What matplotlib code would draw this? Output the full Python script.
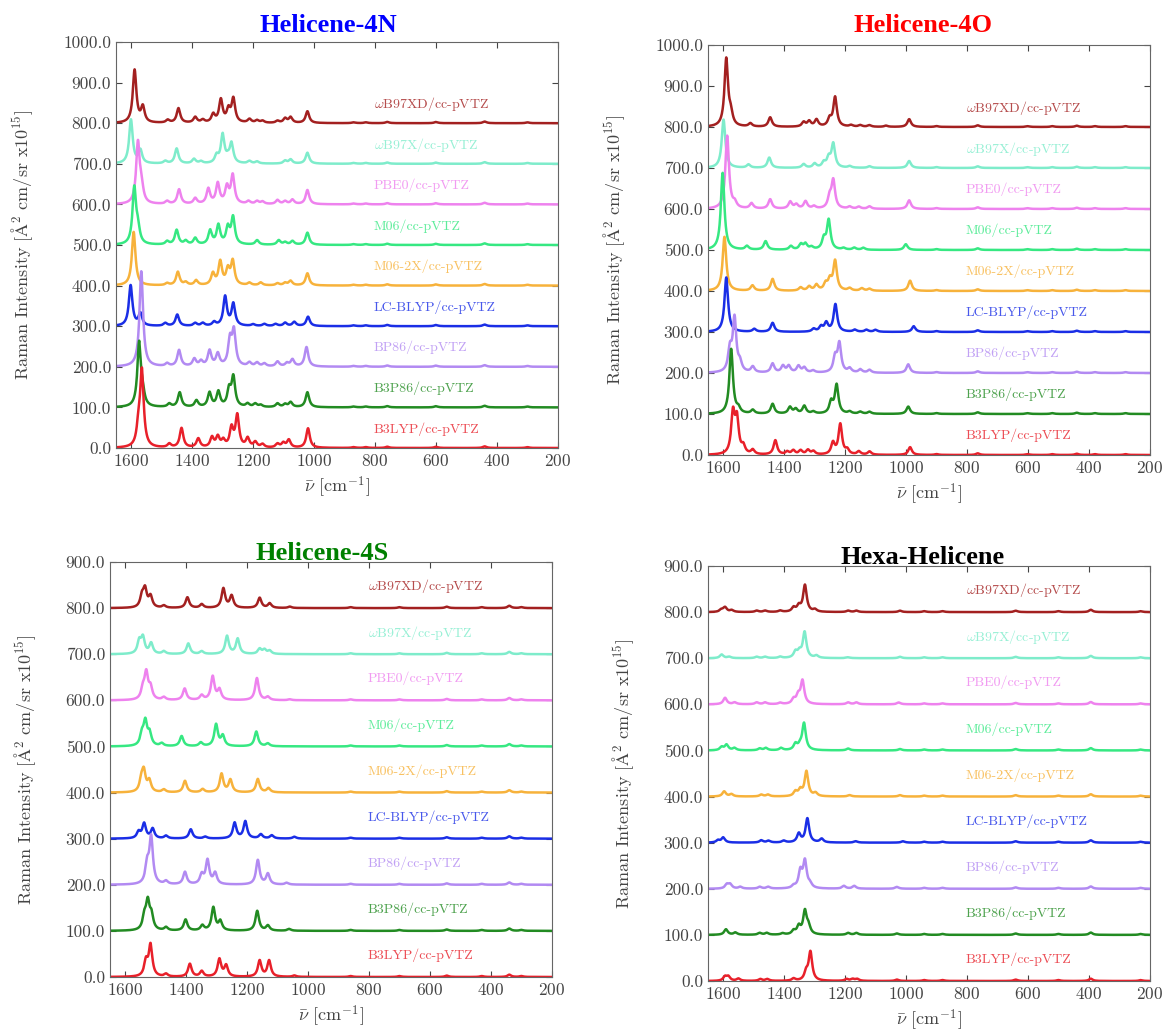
import numpy as np
import matplotlib.pyplot as plt

plt.rcParams['font.family'] = 'serif'
plt.rcParams['font.serif'] = ['cmr10']
plt.rcParams['mathtext.fontset'] = 'cm'
plt.rcParams['axes.formatter.use_mathtext'] = True

# functionals, top to bottom
functionals = ['$\\omega$B97XD', '$\\omega$B97X', 'PBE0', 'M06', 'M06-2X',
               'LC-BLYP', 'BP86', 'B3P86', 'B3LYP']
basis = 'cc-pVTZ'
colors = ['#a32020', '#7eeccb', '#ee82ee', '#36e882', '#f7b23b',
          '#1a2ee6', '#b28af2', '#228b22', '#e8202a']
offsets = [800, 700, 600, 500, 400, 300, 200, 100, 0]

# peaks: (wavenumber, height) for each functional
peaks_4n = [
    [(1589, 130), (1562, 38), (1480, 7), (1445, 36), (1390, 14), (1365, 7), (1331, 20),
     (1306, 56), (1281, 30), (1265, 58), (1212, 9), (1187, 6), (1169, 5), (1120, 5),
     (1095, 11), (1077, 14), (1022, 29)],
    [(1601, 108), (1570, 32), (1488, 6), (1451, 37), (1394, 11), (1371, 5), (1320, 18),
     (1300, 70), (1283, 10), (1271, 48), (1212, 6), (1187, 5), (1095, 7), (1077, 10),
     (1022, 27)],
    [(1578, 150), (1566, 34), (1482, 7), (1443, 36), (1390, 14), (1347, 37), (1316, 50),
     (1286, 40), (1267, 70), (1215, 7), (1187, 7), (1169, 6), (1120, 10), (1095, 7),
     (1071, 11), (1022, 35)],
    [(1590, 138), (1578, 34), (1482, 8), (1451, 36), (1421, 9), (1390, 16), (1341, 34),
     (1314, 47), (1283, 40), (1266, 66), (1187, 11), (1116, 11), (1095, 6), (1071, 9),
     (1022, 30)],
    [(1592, 132), (1482, 5), (1447, 33), (1421, 7), (1387, 12), (1332, 28), (1308, 57),
     (1283, 36), (1267, 58), (1212, 6), (1175, 7), (1120, 5), (1095, 6), (1077, 11),
     (1022, 30)],
    [(1602, 100), (1570, 30), (1488, 7), (1449, 28), (1390, 7), (1365, 7), (1328, 9),
     (1292, 72), (1265, 54), (1200, 4), (1163, 5), (1126, 5), (1095, 8), (1065, 10),
     (1020, 23)],
    [(1567, 235), (1482, 7), (1443, 40), (1393, 18), (1371, 12), (1343, 38), (1316, 30),
     (1276, 62), (1263, 84), (1212, 9), (1187, 9), (1163, 7), (1120, 12), (1089, 8),
     (1071, 17), (1025, 48)],
    [(1574, 158), (1562, 24), (1475, 8), (1441, 36), (1386, 16), (1343, 35), (1314, 37),
     (1279, 40), (1265, 72), (1218, 8), (1193, 8), (1175, 5), (1120, 9), (1095, 7),
     (1077, 12), (1022, 37)],
    [(1565, 185), (1576, 45), (1475, 9), (1435, 48), (1380, 22), (1335, 24), (1316, 25),
     (1298, 16), (1271, 46), (1252, 78), (1218, 22), (1193, 13), (1169, 8), (1120, 9),
     (1101, 11), (1083, 19), (1020, 48)],
]
lowfreq_4n = [(870, 2), (830, 2), (760, 3), (600, 3), (440, 4), (300, 2)]

peaks_4o = [
    [(1590, 165), (1575, 26), (1511, 8), (1446, 23), (1336, 11), (1318, 13), (1294, 17),
     (1251, 18), (1233, 72), (1180, 4), (1150, 4), (1120, 4), (1066, 3), (990, 19)],
    [(1599, 118), (1517, 8), (1449, 25), (1336, 9), (1300, 10), (1270, 12), (1254, 22),
     (1239, 58), (1185, 4), (1120, 4), (990, 17)],
    [(1587, 178), (1562, 12), (1507, 13), (1446, 23), (1380, 17), (1360, 10), (1330, 18),
     (1302, 6), (1251, 26), (1239, 68), (1185, 5), (1155, 5), (1120, 6), (990, 21)],
    [(1602, 188), (1522, 9), (1461, 21), (1378, 9), (1345, 13), (1330, 14), (1310, 6),
     (1270, 25), (1254, 72), (1205, 4), (1170, 5), (1140, 5), (1001, 14)],
    [(1596, 132), (1504, 13), (1438, 29), (1346, 8), (1318, 10), (1294, 14), (1264, 16),
     (1250, 24), (1233, 72), (1185, 6), (1145, 6), (1120, 5), (987, 25)],
    [(1590, 133), (1498, 7), (1438, 22), (1303, 7), (1279, 12), (1262, 21), (1232, 67),
     (1168, 5), (1130, 5), (1100, 5), (975, 14)],
    [(1563, 130), (1578, 52), (1545, 20), (1503, 14), (1438, 22), (1404, 16), (1385, 16),
     (1353, 16), (1334, 12), (1305, 5), (1233, 36), (1219, 70), (1185, 10), (1150, 8),
     (1120, 7), (993, 21)],
    [(1574, 158), (1550, 11), (1503, 9), (1438, 24), (1381, 16), (1362, 11), (1334, 19),
     (1304, 5), (1246, 28), (1228, 70), (1185, 5), (1150, 5), (1120, 5), (993, 18)],
    [(1568, 98), (1555, 82), (1534, 18), (1503, 11), (1429, 35), (1390, 7), (1370, 10),
     (1346, 10), (1322, 11), (1304, 8), (1240, 28), (1216, 74), (1193, 11), (1155, 8),
     (1120, 8), (987, 19)],
]
lowfreq_4o = [(900, 2), (765, 4), (600, 2), (520, 2), (440, 3), (380, 2), (280, 2)]

peaks_4s = [
    [(1545, 24), (1535, 38), (1517, 24), (1473, 5), (1396, 23), (1349, 8), (1278, 42),
     (1251, 26), (1159, 22), (1126, 10), (1060, 3)],
    [(1554, 27), (1542, 34), (1515, 23), (1473, 6), (1393, 23), (1349, 6), (1266, 39),
     (1231, 33), (1159, 11), (1143, 9), (1126, 7)],
    [(1542, 22), (1531, 56), (1517, 25), (1473, 6), (1405, 25), (1349, 10), (1313, 51),
     (1291, 22), (1168, 48), (1132, 7), (1060, 2)],
    [(1545, 24), (1534, 50), (1520, 26), (1480, 6), (1415, 22), (1352, 8), (1302, 47),
     (1280, 22), (1170, 32), (1132, 6)],
    [(1547, 24), (1539, 42), (1521, 24), (1473, 6), (1404, 25), (1346, 7), (1284, 40),
     (1255, 27), (1165, 29), (1130, 9)],
    [(1556, 14), (1538, 32), (1510, 21), (1466, 6), (1385, 20), (1337, 4), (1241, 34),
     (1206, 37), (1155, 9), (1119, 7), (1045, 4)],
    [(1528, 40), (1515, 100), (1466, 7), (1404, 27), (1349, 20), (1330, 52), (1305, 24),
     (1165, 53), (1132, 23), (1070, 4)],
    [(1537, 28), (1526, 58), (1514, 30), (1466, 7), (1402, 24), (1347, 11), (1311, 50),
     (1288, 20), (1167, 43), (1132, 11), (1062, 4)],
    [(1532, 32), (1517, 68), (1466, 6), (1388, 28), (1349, 12), (1291, 38), (1269, 24),
     (1159, 35), (1128, 35), (1045, 3)],
]
lowfreq_4s = [(860, 2), (700, 2), (545, 3), (430, 2), (340, 5), (300, 2)]

peaks_hexa = [
    [(1606, 5), (1594, 10), (1572, 4), (1490, 3), (1462, 3), (1413, 3), (1369, 9),
     (1352, 12), (1332, 58), (1299, 5), (1190, 3), (1163, 3), (1020, 3)],
    [(1605, 8), (1580, 3), (1490, 3), (1462, 3), (1413, 3), (1363, 13), (1350, 12),
     (1333, 56), (1294, 5), (1190, 2), (1020, 3)],
    [(1594, 14), (1562, 4), (1490, 4), (1462, 4), (1413, 3), (1369, 10), (1354, 17),
     (1340, 50), (1190, 4), (1163, 4), (1024, 4)],
    [(1605, 7), (1589, 12), (1563, 5), (1480, 4), (1460, 5), (1410, 5), (1363, 13),
     (1348, 8), (1335, 58), (1190, 4), (1020, 3)],
    [(1597, 11), (1573, 5), (1475, 4), (1453, 4), (1363, 10), (1347, 13), (1327, 54),
     (1297, 7), (1185, 3), (1020, 3)],
    [(1617, 5), (1600, 11), (1475, 5), (1451, 4), (1401, 4), (1352, 19), (1324, 52),
     (1277, 8), (1165, 3), (1010, 3)],
    [(1588, 9), (1577, 9), (1544, 4), (1480, 4), (1452, 4), (1369, 5), (1347, 36),
     (1332, 58), (1315, 8), (1204, 6), (1170, 6), (1030, 4)],
    [(1591, 12), (1560, 5), (1480, 4), (1457, 4), (1405, 3), (1369, 8), (1352, 17),
     (1332, 50), (1320, 16), (1190, 4), (1163, 4), (1030, 3)],
    [(1594, 9), (1583, 9), (1550, 5), (1478, 4), (1455, 4), (1369, 5), (1328, 17),
     (1314, 62), (1195, 4), (1175, 4), (1160, 4), (1030, 3)],
]
lowfreq_hexa = [(940, 2), (880, 2), (640, 3), (500, 2), (394, 5), (230, 2)]

panels = [
    ('Helicene-4N', 'blue', peaks_4n, lowfreq_4n, 1000),
    ('Helicene-4O', 'red', peaks_4o, lowfreq_4o, 1000),
    ('Helicene-4S', 'green', peaks_4s, lowfreq_4s, 900),
    ('Hexa-Helicene', 'black', peaks_hexa, lowfreq_hexa, 900),
]

# axes boxes in pixels: left, top, right, bottom
boxes = [(116, 42, 558, 448), (708, 45, 1150, 455),
         (110, 562, 552, 977), (708, 566, 1150, 981)]
title_xy = [(328, 26), (923, 26), (322, 553), (923, 557)]

W, H = 1164, 1031
fig = plt.figure(figsize=(W / 100, H / 100), dpi=100)

x = np.linspace(200, 1650, 2901)
hw = 7.0


def spectrum(peaks):
    y = np.zeros_like(x)
    for pos, h in peaks:
        y += h * hw**2 / ((x - pos)**2 + hw**2)
    return y


for i, (name, tcol, peaks, lowfreq, ymax) in enumerate(panels):
    l, t, r, b = boxes[i]
    ax = fig.add_axes([l / W, 1 - b / H, (r - l) / W, (b - t) / H])

    for k in range(len(functionals)):
        y = spectrum(peaks[k] + lowfreq) + offsets[k]
        ax.plot(x, y, color=colors[k], lw=1.8)
        ax.text(805, offsets[k] + 47, functionals[k] + '/' + basis, color=colors[k],
                alpha=0.8, fontsize=10, va='center', ha='left')

    ax.set_xlim(1650, 200)
    ax.set_ylim(0, ymax)
    ax.set_xticks(np.arange(1600, 199, -200))
    ax.set_yticks(np.arange(0, ymax + 1, 100))
    ax.yaxis.set_major_formatter(plt.FormatStrFormatter('%.1f'))
    ax.tick_params(direction='in', top=True, right=True, labelsize=12.5,
                   colors='#444444', length=4)
    for sp in ax.spines.values():
        sp.set_color('#666666')
    ax.set_xlabel(r'$\bar{\nu}$ [cm$^{-1}$]', fontsize=13, color='#444444')
    ax.set_ylabel(r'Raman Intensity [$\mathrm{\AA}^2$ cm/sr x10$^{15}$]',
                  fontsize=13, color='#444444', labelpad=20)

    tx, ty = title_xy[i]
    fig.text(tx / W, 1 - ty / H, name, color=tcol, fontsize=19, fontweight='bold',
             family='Liberation Serif', ha='center', va='center')

fig.savefig('out.png', dpi=100)
